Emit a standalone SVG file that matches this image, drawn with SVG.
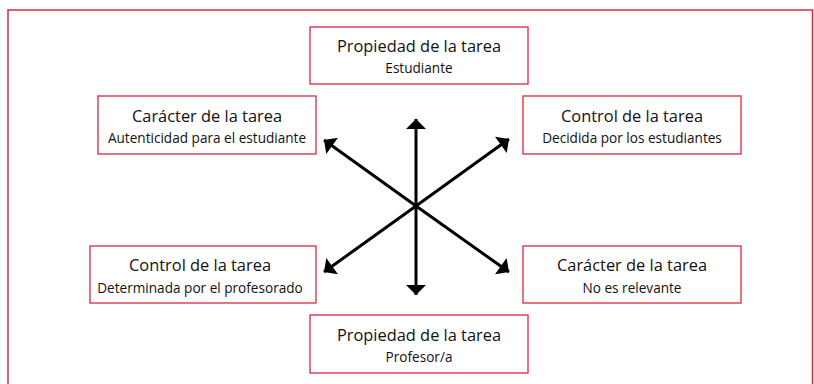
<svg xmlns="http://www.w3.org/2000/svg" width="814" height="384" viewBox="0 0 814 384">
<defs>
<style>
.frame{fill:none;stroke:#d9283f;stroke-width:1.5}
.box{fill:#ffffff;stroke:#d9283f;stroke-width:1.3}
.t{font-family:"Open Sans","Liberation Sans",sans-serif;fill:#111;text-anchor:middle}
.h{font-size:16.4px}
.s{font-size:13.6px}
.c{stroke:#000;stroke-width:3;fill:none}
</style>
<marker id="ah" viewBox="0 0 10 20" refX="10" refY="10" markerWidth="11" markerHeight="20" markerUnits="userSpaceOnUse" orient="auto">
<path d="M0,0 L10,10 L0,20 Z" fill="#000"/>
</marker>
</defs>
<rect width="814" height="384" fill="#fff"/>
<path class="frame" d="M8,384 V10 H812.5 V384"/>
<g id="connectors">
<line class="c" x1="416" y1="206" x2="416" y2="119" marker-end="url(#ah)"/>
<line class="c" x1="416" y1="206" x2="416" y2="295" marker-end="url(#ah)"/>
<line class="c" x1="416" y1="206" x2="324" y2="140" marker-end="url(#ah)"/>
<line class="c" x1="416" y1="206" x2="509" y2="139" marker-end="url(#ah)"/>
<line class="c" x1="416" y1="206" x2="324" y2="272" marker-end="url(#ah)"/>
<line class="c" x1="416" y1="206" x2="509" y2="272" marker-end="url(#ah)"/>
</g>
<g id="n-top">
<rect class="box" x="310" y="27" width="218" height="57"/>
<text class="t h" x="419" y="52">Propiedad de la tarea</text>
<text class="t s" x="419" y="73">Estudiante</text>
</g>
<g id="n-ul">
<rect class="box" x="98" y="96" width="218" height="58"/>
<text class="t h" x="207" y="122">Carácter de la tarea</text>
<text class="t s" x="207" y="143">Autenticidad para el estudiante</text>
</g>
<g id="n-ur">
<rect class="box" x="523" y="96" width="218" height="58"/>
<text class="t h" x="632" y="122">Control de la tarea</text>
<text class="t s" x="632" y="143">Decidida por los estudiantes</text>
</g>
<g id="n-ll">
<rect class="box" x="90" y="246" width="226" height="57"/>
<text class="t h" x="200" y="271">Control de la tarea</text>
<text class="t s" x="200" y="293">Determinada por el profesorado</text>
</g>
<g id="n-lr">
<rect class="box" x="523" y="246" width="218" height="57"/>
<text class="t h" x="632" y="271">Carácter de la tarea</text>
<text class="t s" x="632" y="293">No es relevante</text>
</g>
<g id="n-bottom">
<rect class="box" x="310" y="315" width="218" height="58"/>
<text class="t h" x="419" y="341">Propiedad de la tarea</text>
<text class="t s" x="419" y="362">Profesor/a</text>
</g>
</svg>
